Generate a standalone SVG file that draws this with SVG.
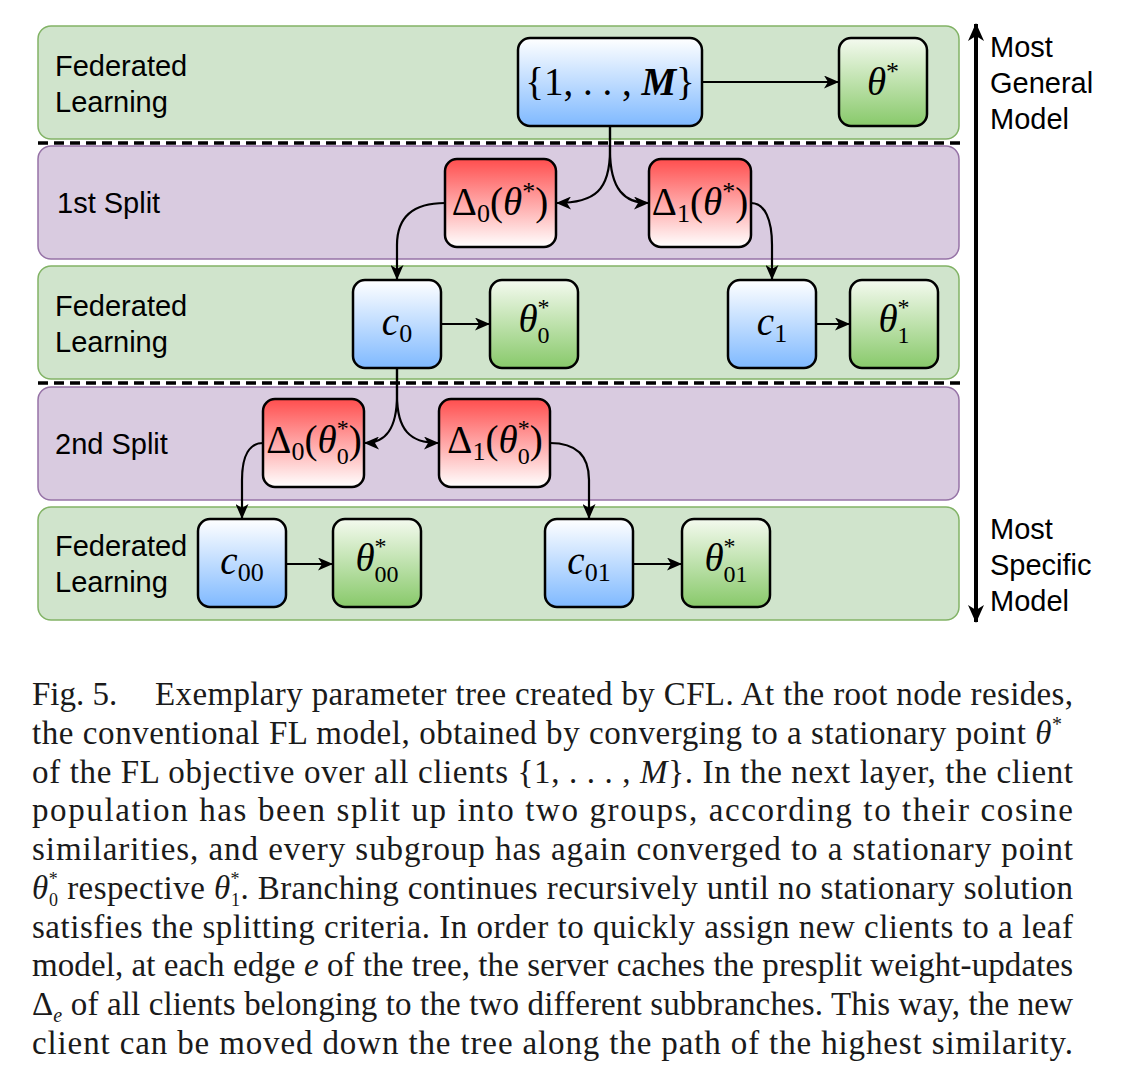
<svg xmlns="http://www.w3.org/2000/svg" width="1132" height="1086" viewBox="0 0 1132 1086">
<style>
.band-g{fill:#d0e4cc;stroke:#82b366;stroke-width:1.5}
.band-p{fill:#d9cbe0;stroke:#9673a6;stroke-width:1.5}
.node{stroke:#000;stroke-width:2.5}
.blue{fill:url(#gBlue)}
.green{fill:url(#gGreen)}
.red{fill:url(#gRed)}
.lbl{font-family:"Liberation Sans",Arial,sans-serif;font-size:29px;fill:#000}
.m{font-family:"Liberation Serif","Times New Roman",serif;font-size:39px;fill:#000;text-anchor:middle}
.i{font-style:italic}
.s{font-size:26px}
.ss{font-size:24px}
.cap{font-family:"Liberation Serif","Times New Roman",serif;font-size:33px;fill:#1a1a1a}
.cs{font-size:20px}
.cq{font-size:18px}
.edge{fill:none;stroke:#000;stroke-width:2.2}
.dash{stroke:#000;stroke-width:3.5;stroke-dasharray:10 6}
</style>
<defs>
<linearGradient id="gBlue" x1="0" y1="0" x2="0" y2="1"><stop offset="0" stop-color="#ffffff"/><stop offset="1" stop-color="#7fb9ff"/></linearGradient>
<linearGradient id="gGreen" x1="0" y1="0" x2="0" y2="1"><stop offset="0" stop-color="#f4faef"/><stop offset="1" stop-color="#88c96a"/></linearGradient>
<linearGradient id="gRed" x1="0" y1="0" x2="0" y2="1"><stop offset="0" stop-color="#ff4e4e"/><stop offset="1" stop-color="#ffffff"/></linearGradient>
<marker id="arr" markerUnits="userSpaceOnUse" markerWidth="15" markerHeight="13" viewBox="0 0 15 13" refX="14" refY="6.5" orient="auto">
<path d="M0,0 L15,6.5 L0,13 L4,6.5 Z" fill="#000"/>
</marker>
<marker id="bigarr" markerUnits="userSpaceOnUse" markerWidth="18" markerHeight="16" viewBox="0 0 18 16" refX="17" refY="8" orient="auto-start-reverse">
<path d="M0,0 L18,8 L0,16 L5,8 Z" fill="#000"/>
</marker>
</defs>

<g id="bands">
<rect class="band-g" x="38" y="26" width="921" height="113" rx="13"/>
<rect class="band-p" x="38" y="146" width="921" height="113" rx="13"/>
<rect class="band-g" x="38" y="266" width="921" height="113" rx="13"/>
<rect class="band-p" x="38" y="387" width="921" height="113" rx="13"/>
<rect class="band-g" x="38" y="507" width="921" height="113" rx="13"/>
<line class="dash" x1="38" y1="143" x2="960" y2="143"/>
<line class="dash" x1="38" y1="383" x2="960" y2="383"/>
</g>

<g id="band-labels">
<text class="lbl" x="55" y="76">Federated</text>
<text class="lbl" x="55" y="112">Learning</text>
<text class="lbl" x="57" y="213">1st Split</text>
<text class="lbl" x="55" y="316">Federated</text>
<text class="lbl" x="55" y="352">Learning</text>
<text class="lbl" x="55" y="454">2nd Split</text>
<text class="lbl" x="55" y="556">Federated</text>
<text class="lbl" x="55" y="592">Learning</text>
</g>

<g id="axis">
<line x1="976" y1="24" x2="976" y2="622" stroke="#000" stroke-width="4" marker-start="url(#bigarr)" marker-end="url(#bigarr)"/>
<text class="lbl" x="990" y="57">Most</text>
<text class="lbl" x="990" y="93">General</text>
<text class="lbl" x="990" y="129">Model</text>
<text class="lbl" x="990" y="539">Most</text>
<text class="lbl" x="990" y="575">Specific</text>
<text class="lbl" x="990" y="611">Model</text>
</g>

<g id="connectors">
<path class="edge" marker-end="url(#arr)" d="M702,82 L838,82"/>
<path class="edge" marker-end="url(#arr)" d="M610,126 L610,150 C610,190 595,203 557,203"/>
<path class="edge" marker-end="url(#arr)" d="M610,126 L610,150 C610,190 625,203 648,203"/>
<path class="edge" marker-end="url(#arr)" d="M445,203 C415,203 397,215 397,245 L397,279"/>
<path class="edge" marker-end="url(#arr)" d="M751,203 C765,203 772,220 772,245 L772,279"/>
<path class="edge" marker-end="url(#arr)" d="M441,324 L489,324"/>
<path class="edge" marker-end="url(#arr)" d="M816,324 L849,324"/>
<path class="edge" marker-end="url(#arr)" d="M397,368 L397,395 C397,430 385,443 365,443"/>
<path class="edge" marker-end="url(#arr)" d="M397,368 L397,395 C397,430 410,443 438,443"/>
<path class="edge" marker-end="url(#arr)" d="M263,443 C250,443 242,455 242,480 L242,518"/>
<path class="edge" marker-end="url(#arr)" d="M550,443 C575,443 589,455 589,480 L589,518"/>
<path class="edge" marker-end="url(#arr)" d="M286,564 L332,564"/>
<path class="edge" marker-end="url(#arr)" d="M633,564 L681,564"/>
</g>

<g id="n-set"><rect class="node blue" x="518" y="38" width="184" height="88" rx="12"/>
<text class="m" x="610" y="95" font-size="37">{1, . . , <tspan class="i" font-weight="bold">M</tspan>}</text></g>
<g id="n-theta"><rect class="node green" x="839" y="38" width="88" height="88" rx="12"/>
<text class="m" x="883" y="95"><tspan class="i">θ</tspan><tspan class="s" dy="-15">*</tspan></text></g>

<g id="n-d0"><rect class="node red" x="445" y="159" width="111" height="88" rx="12"/>
<text class="m" x="500" y="215">Δ<tspan class="s" dy="7">0</tspan><tspan dy="-7">(</tspan><tspan class="i">θ</tspan><tspan class="s" dy="-15">*</tspan><tspan dy="15">)</tspan></text></g>
<g id="n-d1"><rect class="node red" x="649" y="159" width="102" height="88" rx="12"/>
<text class="m" x="700" y="215">Δ<tspan class="s" dy="7">1</tspan><tspan dy="-7">(</tspan><tspan class="i">θ</tspan><tspan class="s" dy="-15">*</tspan><tspan dy="15">)</tspan></text></g>

<g id="n-c0"><rect class="node blue" x="353" y="280" width="88" height="88" rx="12"/>
<text class="m" x="397" y="335"><tspan class="i">c</tspan><tspan class="s" dy="7">0</tspan></text></g>
<g id="n-t0"><rect class="node green" x="490" y="280" width="88" height="88" rx="12"/>
<text class="m" x="534" y="332"><tspan class="i">θ</tspan><tspan class="ss" dy="-17">*</tspan><tspan class="ss" dx="-12" dy="28">0</tspan></text></g>
<g id="n-c1"><rect class="node blue" x="728" y="280" width="88" height="88" rx="12"/>
<text class="m" x="772" y="335"><tspan class="i">c</tspan><tspan class="s" dy="7">1</tspan></text></g>
<g id="n-t1"><rect class="node green" x="850" y="280" width="88" height="88" rx="12"/>
<text class="m" x="894" y="332"><tspan class="i">θ</tspan><tspan class="ss" dy="-17">*</tspan><tspan class="ss" dx="-12" dy="28">1</tspan></text></g>

<g id="n-d00"><rect class="node red" x="263" y="399" width="101" height="88" rx="12"/>
<text class="m" x="314" y="453">Δ<tspan class="s" dy="7">0</tspan><tspan dy="-7">(</tspan><tspan class="i">θ</tspan><tspan class="ss" dy="-17">*</tspan><tspan class="ss" dx="-12" dy="28">0</tspan><tspan dy="-11">)</tspan></text></g>
<g id="n-d01"><rect class="node red" x="439" y="399" width="111" height="88" rx="12"/>
<text class="m" x="495" y="453">Δ<tspan class="s" dy="7">1</tspan><tspan dy="-7">(</tspan><tspan class="i">θ</tspan><tspan class="ss" dy="-17">*</tspan><tspan class="ss" dx="-12" dy="28">0</tspan><tspan dy="-11">)</tspan></text></g>

<g id="n-c00"><rect class="node blue" x="198" y="519" width="88" height="88" rx="12"/>
<text class="m" x="242" y="574"><tspan class="i">c</tspan><tspan class="s" dy="7">00</tspan></text></g>
<g id="n-t00"><rect class="node green" x="333" y="519" width="88" height="88" rx="12"/>
<text class="m" x="377" y="571"><tspan class="i">θ</tspan><tspan class="ss" dy="-17">*</tspan><tspan class="ss" dx="-12" dy="28">00</tspan></text></g>
<g id="n-c01"><rect class="node blue" x="545" y="519" width="88" height="88" rx="12"/>
<text class="m" x="589" y="574"><tspan class="i">c</tspan><tspan class="s" dy="7">01</tspan></text></g>
<g id="n-t01"><rect class="node green" x="682" y="519" width="88" height="88" rx="12"/>
<text class="m" x="726" y="571"><tspan class="i">θ</tspan><tspan class="ss" dy="-17">*</tspan><tspan class="ss" dx="-12" dy="28">01</tspan></text></g>

<g id="caption">
<text class="cap" x="32" y="705">Fig. 5.</text>
<text class="cap" x="155" y="705" textLength="918" lengthAdjust="spacing">Exemplary parameter tree created by CFL. At the root node resides,</text>
<text class="cap" x="32" y="743.75" textLength="1030" lengthAdjust="spacing">the conventional FL model, obtained by converging to a stationary point <tspan class="i">θ</tspan><tspan class="cs" dy="-13">*</tspan></text>
<text class="cap" x="32" y="782.5" textLength="1041" lengthAdjust="spacing">of the FL objective over all clients {1, . . . , <tspan class="i">M</tspan>}. In the next layer, the client</text>
<text class="cap" x="32" y="821.25" textLength="1041" lengthAdjust="spacing">population has been split up into two groups, according to their cosine</text>
<text class="cap" x="32" y="860" textLength="1041" lengthAdjust="spacing">similarities, and every subgroup has again converged to a stationary point</text>
<text class="cap" x="32" y="898.75" textLength="1041" lengthAdjust="spacing"><tspan class="i">θ</tspan><tspan class="cq" dy="-14">*</tspan><tspan class="cq" dx="-9" dy="21">0</tspan><tspan dy="-7"> respective </tspan><tspan class="i">θ</tspan><tspan class="cq" dy="-14">*</tspan><tspan class="cq" dx="-9" dy="21">1</tspan><tspan dy="-7">. Branching continues recursively until no stationary solution</tspan></text>
<text class="cap" x="32" y="937.5" textLength="1041" lengthAdjust="spacing">satisfies the splitting criteria. In order to quickly assign new clients to a leaf</text>
<text class="cap" x="32" y="976.25" textLength="1041" lengthAdjust="spacing">model, at each edge <tspan class="i">e</tspan> of the tree, the server caches the presplit weight-updates</text>
<text class="cap" x="32" y="1015" textLength="1041" lengthAdjust="spacing">Δ<tspan class="cs i" dy="7">e</tspan><tspan dy="-7"> of all clients belonging to the two different subbranches. This way, the new</tspan></text>
<text class="cap" x="32" y="1053.75" textLength="1041" lengthAdjust="spacing">client can be moved down the tree along the path of the highest similarity.</text>
</g>
</svg>
